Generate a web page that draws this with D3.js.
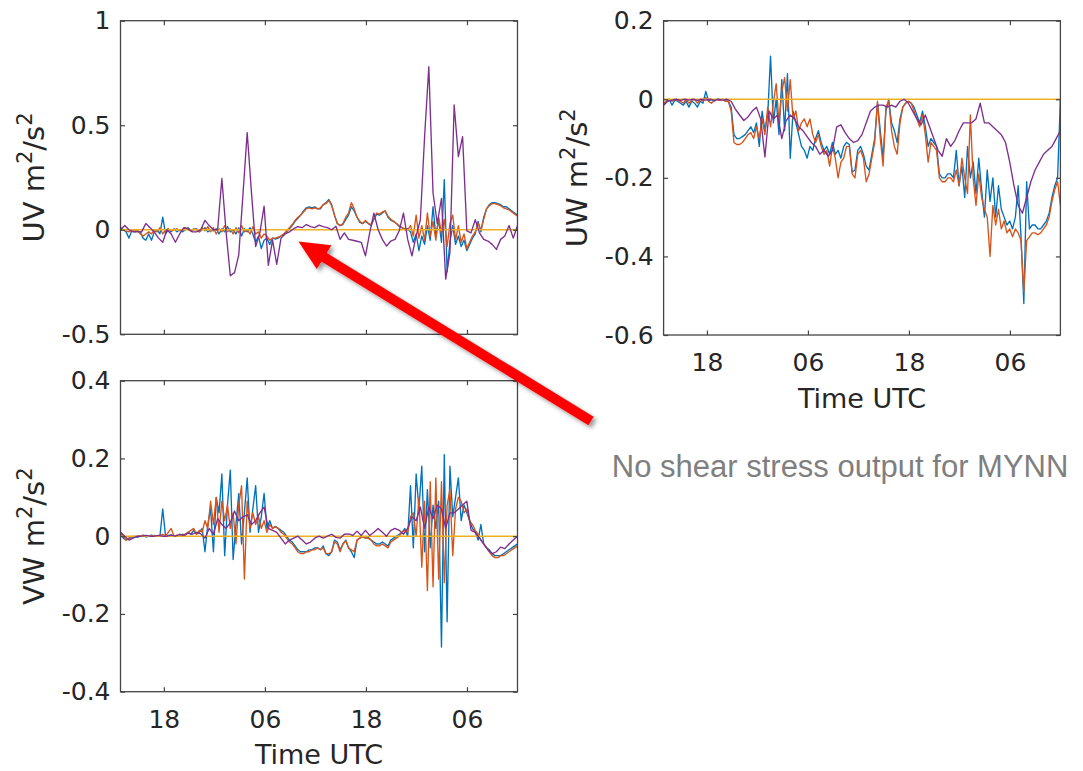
<!DOCTYPE html>
<html>
<head>
<meta charset="utf-8">
<script src="https://cdn.jsdelivr.net/npm/d3@7"></script>
<style>
  body { margin: 0; background: #fff; }
  svg { display: block; }
</style>
</head>
<body>
<svg width="1083" height="771"></svg>
<script>
// time axis (hours from day 1 00 UTC)
var tStart = 12.85, tEnd = 60;
var xTickHours = [18, 30, 42, 54];
var xTickLabels = ["18", "06", "18", "06"];

// UV
var uvTicks = [1, 0.5, 0, -0.5];
var uvTickLabels = ["1", "0.5", "0", "-0.5"];
var uvBlue = [
  0.01, 0.0, -0.01, -0.04, -0.005, -0.01, -0.005, -0.01, -0.04, -0.05,
  -0.02, -0.05, -0.01, 0.0, -0.02, 0.06, -0.02, 0.0, -0.01, 0.005,
  -0.01, 0.0, -0.01, 0.0, 0.01, -0.005, 0.0, 0.005, -0.01, 0.0,
  0.01, -0.01, 0.0, -0.005, 0.005, -0.02, 0.005, -0.01, 0.015, -0.01,
  0.0, -0.02, 0.01, -0.03, 0.005, -0.01, 0.01, -0.02, -0.06, -0.03,
  -0.09, -0.05, -0.04, -0.07, -0.04, -0.045, -0.04, -0.03, -0.02, -0.01,
  0.005, 0.02, 0.04, 0.055, 0.07, 0.09, 0.105, 0.11, 0.105, 0.11,
  0.1, 0.1, 0.12, 0.13, 0.145, 0.12, 0.07, 0.03, 0.02, 0.025,
  0.05, 0.07, 0.11, 0.09, 0.06, 0.035, 0.03, 0.04, 0.03, 0.02,
  0.05, 0.075, 0.07, 0.08, 0.09, 0.06, 0.045, 0.04, 0.03, 0.015,
  0.01, 0.0, 0.005, -0.01, -0.06, -0.02, -0.1, -0.03, -0.07, 0.02,
  -0.05, 0.11, -0.03, 0.05, -0.06, 0.24, -0.2, -0.06, 0.02, -0.07,
  -0.03, -0.08, -0.05, -0.1, -0.07, -0.04, -0.02, 0.04, -0.01, 0.06,
  0.1, 0.12, 0.13, 0.13, 0.125, 0.12, 0.11, 0.11, 0.1, 0.09,
  0.08, 0.07
];
var uvOrange = [
  0.01, 0.0, -0.005, -0.01, 0.0, -0.005, 0.0, -0.02, -0.03, -0.02,
  -0.01, -0.02, 0.0, -0.01, 0.01, -0.02, 0.0, 0.005, -0.005, 0.0,
  0.005, -0.005, 0.0, 0.01, 0.0, -0.005, 0.005, 0.0, -0.01, 0.01,
  -0.005, 0.015, -0.01, 0.01, -0.02, 0.005, -0.01, 0.02, -0.01, 0.005,
  -0.02, 0.01, -0.015, 0.02, -0.01, 0.0, -0.02, 0.015, -0.02, -0.01,
  -0.04, -0.02, -0.03, -0.05, -0.04, -0.04, -0.035, -0.03, -0.02, -0.005,
  0.01, 0.025, 0.045, 0.06, 0.07, 0.085, 0.1, 0.105, 0.1, 0.105,
  0.1, 0.105, 0.12, 0.125, 0.14, 0.115, 0.07, 0.03, 0.02, 0.03,
  0.06, 0.08, 0.13, 0.1, 0.06, 0.04, 0.03, 0.045, 0.03, 0.025,
  0.055, 0.08, 0.075, 0.085, 0.09, 0.065, 0.05, 0.04, 0.03, 0.02,
  0.01, 0.005, 0.0, 0.02, -0.03, 0.07, -0.04, 0.02, -0.05, 0.08,
  -0.03, 0.04, -0.05, 0.06, -0.02, 0.05, -0.08, 0.03, 0.07, -0.05,
  0.02, -0.06, -0.02, -0.09, -0.06, -0.03, -0.01, 0.03, 0.0, 0.05,
  0.1, 0.115, 0.125, 0.125, 0.12, 0.115, 0.105, 0.1, 0.095, 0.085,
  0.075, 0.065
];
var uvPurple = [
  0.0, 0.02, 0.0, -0.01, -0.01, -0.01, 0.03, 0.01, -0.01, -0.04,
  -0.06, 0.0, -0.02, -0.06, -0.02, 0.01, 0.005, -0.01, -0.01, 0.0,
  0.045, 0.02, 0.0, 0.0, 0.245, -0.01, -0.22, -0.205, -0.12, 0.17,
  0.465, 0.18, -0.08, -0.015, 0.113, -0.17, -0.05, -0.165, -0.04, -0.02,
  -0.01, 0.005, 0.015, 0.01, 0.025, 0.015, 0.01, 0.022, 0.015, 0.01,
  0.0, 0.017, -0.046, -0.015, -0.046, -0.05, -0.055, -0.06, -0.125, -0.015,
  0.08, 0.0, -0.046, -0.078, -0.054, -0.046, -0.005, 0.08, -0.046, -0.125,
  -0.03, 0.048, 0.445, 0.78, 0.176, 0.03, 0.15, -0.236, -0.11, 0.597,
  0.35, 0.445, -0.005, -0.015, 0.048, -0.015, -0.046, -0.054, -0.07, -0.094,
  -0.046, -0.03, 0.02, -0.04, 0.02
];

// UW
var uwTicks = [0.2, 0, -0.2, -0.4, -0.6];
var uwTickLabels = ["0.2", "0", "-0.2", "-0.4", "-0.6"];
var uwBlue = [
  -0.015, -0.005, 0.0, -0.015, -0.002, -0.005, -0.01, -0.015, -0.005, -0.02,
  -0.005, -0.01, -0.02, -0.005, -0.01, 0.02, -0.005, 0.0, -0.005, 0.0,
  -0.002, 0.0, -0.005, -0.005, -0.02, -0.09, -0.1, -0.1, -0.095, -0.09,
  -0.08, -0.07, -0.085, -0.06, -0.12, -0.03, -0.08, -0.04, 0.11, -0.06,
  0.0, -0.09, 0.05, -0.08, 0.065, -0.15, -0.03, -0.06, -0.09, -0.12,
  -0.13, -0.15, -0.12, -0.13, -0.1, -0.08, -0.11, -0.13, -0.12, -0.14,
  -0.11, -0.14, -0.13, -0.15, -0.12, -0.11, -0.115, -0.185, -0.18, -0.13,
  -0.12, -0.14, -0.17, -0.18, -0.14, -0.1, -0.01, -0.08, -0.15, -0.03,
  0.0, -0.06, -0.08, -0.11, -0.05, -0.02, -0.01, -0.005, -0.01, -0.02,
  -0.04, -0.06, -0.03, -0.07, -0.12, -0.1, -0.11, -0.12, -0.19, -0.2,
  -0.2, -0.19, -0.19, -0.2, -0.13, -0.22, -0.17, -0.25, -0.12, -0.2,
  -0.16, -0.24, -0.15, -0.23, -0.3, -0.18, -0.26, -0.2, -0.3, -0.22,
  -0.28, -0.3, -0.32, -0.31, -0.33, -0.3, -0.22, -0.35, -0.52, -0.21,
  -0.33, -0.32, -0.32, -0.33, -0.33, -0.32, -0.31, -0.29, -0.25, -0.22,
  -0.2, 0.0
];
var uwOrange = [
  -0.01, -0.005, 0.0, -0.005, 0.0, -0.003, -0.005, -0.01, 0.0, -0.01,
  -0.003, 0.0, -0.01, 0.0, -0.005, 0.005, -0.005, -0.01, -0.003, 0.0,
  -0.003, 0.0, -0.005, -0.005, -0.03, -0.11, -0.115, -0.115, -0.11, -0.1,
  -0.09, -0.085, -0.1, -0.07, -0.1, -0.05, -0.09, -0.02, -0.07, -0.01,
  0.04, -0.06, 0.02, 0.055, -0.03, 0.05, -0.05, -0.03, -0.08, -0.06,
  -0.05, -0.07, -0.05, -0.09, -0.11, -0.09, -0.12, -0.14, -0.13, -0.17,
  -0.12, -0.15, -0.2, -0.16, -0.15, -0.12, -0.12, -0.19, -0.2, -0.14,
  -0.13, -0.15, -0.21, -0.19, -0.15, -0.11, -0.005, -0.1, -0.17, -0.02,
  -0.005, -0.08, -0.12, -0.14, -0.06, -0.02, -0.01, -0.005, -0.01, -0.03,
  -0.05, -0.07, -0.04, -0.09, -0.16, -0.11, -0.12, -0.13, -0.2, -0.21,
  -0.21, -0.2, -0.2, -0.21, -0.18, -0.22, -0.15, -0.2, -0.24, -0.04,
  -0.2, -0.27, -0.19, -0.25, -0.28, -0.3, -0.4, -0.27, -0.32, -0.28,
  -0.33, -0.31, -0.34, -0.33, -0.35, -0.33, -0.34, -0.36, -0.49, -0.36,
  -0.35, -0.34, -0.34, -0.345, -0.34, -0.33, -0.32, -0.3, -0.26, -0.23,
  -0.21, -0.27
];
var uwPurple = [
  -0.015, -0.005, -0.002, 0.0, -0.003, 0.0, -0.002, 0.0, -0.003, 0.0,
  -0.002, 0.0, -0.003, 0.0, -0.002, 0.0, -0.005, -0.025, -0.04, -0.054,
  -0.045, -0.03, -0.02, -0.05, -0.147, -0.03, -0.05, -0.04, -0.1, -0.055,
  -0.04, -0.05, -0.07, -0.08, -0.095, -0.11, -0.12, -0.14, -0.13, -0.145,
  -0.13, -0.07, -0.065, -0.085, -0.1, -0.11, -0.105, -0.09, -0.06, -0.03,
  -0.02, -0.015, -0.015, -0.02, -0.015, -0.02, -0.005, 0.0, -0.01, -0.03,
  -0.05, -0.065, -0.04, -0.07, -0.1, -0.13, -0.145, -0.1, -0.12, -0.105,
  -0.08, -0.06, -0.06, -0.06, -0.05, -0.01, -0.06, -0.06, -0.07, -0.08,
  -0.09, -0.11, -0.16, -0.22, -0.27, -0.29, -0.25, -0.21, -0.18, -0.16,
  -0.14, -0.13, -0.12, -0.1, -0.08
];

// VW
var vwTicks = [0.4, 0.2, 0, -0.2, -0.4];
var vwTickLabels = ["0.4", "0.2", "0", "-0.2", "-0.4"];
var vwBlue = [
  0.01, -0.005, -0.01, -0.005, -0.005, 0.0, -0.003, 0.0, 0.002, -0.002,
  0.0, 0.003, 0.0, 0.0, 0.0, 0.07, 0.0, 0.002, 0.003, 0.0,
  0.002, 0.0, 0.005, 0.003, 0.01, 0.005, 0.015, 0.005, 0.01, 0.02,
  -0.04, 0.03, 0.07, -0.04, 0.1, 0.06, 0.16, -0.05, 0.08, 0.17,
  -0.06, 0.03, 0.11, -0.02, 0.06, 0.15, 0.01, 0.07, 0.13, 0.01,
  0.05, 0.11, 0.02, 0.04, 0.02, 0.025, 0.02, 0.015, 0.01, 0.0,
  -0.01, -0.015, -0.025, -0.035, -0.04, -0.04, -0.04, -0.035, -0.035, -0.03,
  -0.03, -0.035, -0.025, -0.045, -0.05, -0.04, -0.01, -0.015, -0.035, -0.02,
  -0.01, -0.03, -0.04, -0.055, -0.01, -0.005, 0.0, -0.005, -0.003, -0.01,
  -0.015, -0.02, -0.02, -0.015, -0.02, -0.025, -0.01, -0.005, 0.0, 0.005,
  0.01, 0.02, 0.0, 0.13, -0.03, 0.16, 0.07, 0.18, -0.04, 0.12,
  -0.03, 0.08, 0.02, 0.09, -0.285, 0.21, -0.22, 0.18, 0.05, 0.1,
  0.15, 0.04, 0.08, 0.06, 0.04, 0.02, 0.01, -0.01, 0.03, -0.02,
  -0.03, -0.035, -0.045, -0.05, -0.05, -0.05, -0.045, -0.04, -0.035, -0.03,
  -0.025, -0.02
];
var vwOrange = [
  0.01, 0.0, -0.01, -0.005, 0.0, -0.002, 0.0, 0.0, 0.003, 0.0,
  0.0, 0.0, 0.002, 0.0, 0.002, 0.005, 0.0, 0.01, 0.02, 0.0,
  0.002, 0.0, 0.003, 0.005, 0.01, 0.015, 0.02, 0.005, 0.015, 0.01,
  0.04, 0.02, 0.09, 0.03, 0.1, 0.01, 0.09, 0.04, 0.08, 0.02,
  0.06, -0.02, 0.08, 0.13, -0.11, 0.09, 0.02, 0.06, 0.03, 0.05,
  0.02, 0.04, 0.01, 0.03, 0.02, 0.025, 0.02, 0.01, 0.005, -0.005,
  -0.015, -0.02, -0.03, -0.04, -0.045, -0.045, -0.04, -0.04, -0.035, -0.035,
  -0.03, -0.035, -0.03, -0.045, -0.045, -0.04, -0.015, -0.02, -0.04, -0.02,
  -0.012, -0.03, -0.035, -0.04, -0.01, -0.005, -0.002, -0.005, -0.005, -0.01,
  -0.02, -0.025, -0.025, -0.02, -0.025, -0.03, -0.015, -0.01, -0.005, 0.0,
  0.01, 0.015, 0.01, 0.05, 0.06, 0.0, 0.1, -0.08, 0.09, -0.14,
  0.14, -0.13, 0.15, -0.11, 0.14, -0.12, 0.08, 0.12, -0.05, 0.07,
  0.1, 0.09, 0.06, 0.07, 0.04, 0.03, 0.015, 0.005, -0.01, -0.02,
  -0.03, -0.04, -0.05, -0.055, -0.055, -0.05, -0.05, -0.045, -0.04, -0.035,
  -0.03, -0.025
];
var vwPurple = [
  0.01, 0.0, -0.01, -0.005, 0.0, 0.0, 0.002, 0.0, 0.0, 0.002,
  0.0, 0.0, 0.003, 0.0, 0.005, 0.002, 0.008, 0.005, 0.01, 0.006,
  -0.005, 0.02, 0.005, 0.045, 0.03, 0.02, 0.035, 0.065, 0.04, 0.05,
  0.055, 0.03, 0.04, 0.06, 0.075, 0.02, 0.015, 0.01, -0.005, -0.02,
  -0.01, -0.005, 0.0, -0.01, -0.02, -0.015, -0.005, 0.0, -0.005, 0.0,
  0.005, -0.003, -0.005, 0.005, 0.006, 0.002, 0.013, 0.002, 0.015, 0.002,
  0.01, 0.02, 0.01, 0.0, 0.015, 0.02, 0.015, 0.005, 0.02, 0.05,
  0.04, 0.075, 0.02, 0.075, 0.045, 0.08, 0.07, 0.02, 0.06, 0.06,
  0.07, 0.08, 0.09, 0.015, 0.01, -0.005, -0.02, -0.035, -0.045, -0.04,
  -0.028, -0.032, -0.02, -0.01, 0.0
];

// MYNN gives no shear stress: flat zero line
var zeroLine = [0, 0];

var colors = { blue: "#0072BD", orange: "#D95319", yellow: "#EDB120", purple: "#7E2F8E" };
var axisColor = "#444";
var textColor = "#262626";

function toSeries(values) {
  var step = (tEnd - tStart) / (values.length - 1);
  return values.map(function(v, i) { return { t: tStart + i * step, v: v }; });
}

var panels = [
  { id: "uv", name: "UV", left: 120.5, right: 517.5, top: 20.7, bottom: 334.3,
    yDomain: [-0.5, 1], ticks: uvTicks, tickLabels: uvTickLabels, xLabels: false,
    blue: uvBlue, orange: uvOrange, purple: uvPurple },
  { id: "uw", name: "UW", left: 663.6, right: 1060.4, top: 20.7, bottom: 335,
    yDomain: [-0.6, 0.2], ticks: uwTicks, tickLabels: uwTickLabels, xLabels: true,
    blue: uwBlue, orange: uwOrange, purple: uwPurple },
  { id: "vw", name: "VW", left: 120.5, right: 517.5, top: 380.7, bottom: 691.7,
    yDomain: [-0.4, 0.4], ticks: vwTicks, tickLabels: vwTickLabels, xLabels: true,
    blue: vwBlue, orange: vwOrange, purple: vwPurple }
];

var svg = d3.select("svg");
var defs = svg.append("defs");

var shadow = defs.append("filter").attr("id", "shadow")
    .attr("x", "-20%").attr("y", "-20%").attr("width", "140%").attr("height", "140%");
shadow.append("feDropShadow")
    .attr("dx", 3).attr("dy", 3).attr("stdDeviation", 2)
    .attr("flood-color", "#000").attr("flood-opacity", 0.4);

panels.forEach(function(p) {
  var x = d3.scaleLinear().domain([tStart, tEnd]).range([p.left, p.right]);
  var y = d3.scaleLinear().domain(p.yDomain).range([p.bottom, p.top]);
  var w = p.right - p.left, h = p.bottom - p.top;

  defs.append("clipPath").attr("id", "clip-" + p.id)
    .append("rect").attr("x", p.left).attr("y", p.top).attr("width", w).attr("height", h);

  var g = svg.append("g");

  var line = d3.line()
      .x(function(d) { return x(d.t); })
      .y(function(d) { return y(d.v); });

  var plot = g.append("g").attr("clip-path", "url(#clip-" + p.id + ")");
  [["blue", p.blue], ["orange", p.orange], ["yellow", zeroLine], ["purple", p.purple]].forEach(function(s) {
    plot.append("path")
        .datum(toSeries(s[1]))
        .attr("fill", "none")
        .attr("stroke", colors[s[0]])
        .attr("stroke-width", 1.35)
        .attr("stroke-linejoin", "round")
        .attr("d", line);
  });

  // axes with inward ticks on all four sides
  var bottom = g.append("g").attr("transform", "translate(0," + p.bottom + ")")
      .call(d3.axisBottom(x).tickValues(xTickHours).tickSize(-4.5).tickPadding(18.5)
        .tickFormat(function(d, i) { return p.xLabels ? xTickLabels[i] : ""; }));
  var top = g.append("g").attr("transform", "translate(0," + p.top + ")")
      .call(d3.axisTop(x).tickValues(xTickHours).tickSize(-4.5).tickFormat(""));
  var left = g.append("g").attr("transform", "translate(" + p.left + ",0)")
      .call(d3.axisLeft(y).tickValues(p.ticks).tickSize(-4.5).tickPadding(10)
        .tickFormat(function(d, i) { return p.tickLabels[i]; }));
  var right = g.append("g").attr("transform", "translate(" + p.right + ",0)")
      .call(d3.axisRight(y).tickValues(p.ticks).tickSize(-4.5).tickFormat(""));

  [bottom, top, left, right].forEach(function(a) {
    a.select(".domain").remove();
    a.selectAll(".tick line").attr("stroke", axisColor).attr("stroke-width", 1.2);
    a.selectAll("text")
        .attr("fill", textColor)
        .attr("font-family", "DejaVu Sans, sans-serif")
        .attr("font-size", 25);
  });

  g.append("rect")
      .attr("x", p.left).attr("y", p.top).attr("width", w).attr("height", h)
      .attr("fill", "none").attr("stroke", axisColor).attr("stroke-width", 1.3);

  // y label with superscripts
  var lab = g.append("text")
      .attr("transform", "translate(" + (p.left - 76.5) + "," + (p.top + h / 2) + ") rotate(-90)")
      .attr("text-anchor", "middle")
      .attr("fill", textColor)
      .attr("font-family", "DejaVu Sans, sans-serif")
      .attr("font-size", 29);
  lab.append("tspan").text(p.name + " m");
  lab.append("tspan").attr("dy", -12).attr("font-size", 21).text("2");
  lab.append("tspan").attr("dy", 12).text("/s");
  lab.append("tspan").attr("dy", -12).attr("font-size", 21).text("2");

  if (p.xLabels) {
    g.append("text")
        .attr("x", p.left + w / 2).attr("y", p.bottom + 72.5)
        .attr("text-anchor", "middle")
        .attr("fill", textColor)
        .attr("font-family", "DejaVu Sans, sans-serif")
        .attr("font-size", 27)
        .text("Time UTC");
  }
});

// annotation arrow
var arrowTail = [591, 421], arrowTip = [298.5, 241.5];
var dx = arrowTip[0] - arrowTail[0], dy = arrowTip[1] - arrowTail[1];
var len = Math.sqrt(dx * dx + dy * dy);
var ux = dx / len, uy = dy / len, nx = -uy, ny = ux;
var shaftHalf = 5, headHalf = 14, headLen = 30;
var bx = arrowTip[0] - ux * headLen, by = arrowTip[1] - uy * headLen;
var arrowPts = [
  [arrowTail[0] + nx * shaftHalf, arrowTail[1] + ny * shaftHalf],
  [bx + nx * shaftHalf, by + ny * shaftHalf],
  [bx + nx * headHalf, by + ny * headHalf],
  arrowTip,
  [bx - nx * headHalf, by - ny * headHalf],
  [bx - nx * shaftHalf, by - ny * shaftHalf],
  [arrowTail[0] - nx * shaftHalf, arrowTail[1] - ny * shaftHalf]
];
svg.append("polygon")
    .attr("points", arrowPts.map(function(q) { return q.join(","); }).join(" "))
    .attr("fill", "#FF0000")
    .attr("filter", "url(#shadow)");

svg.append("text")
    .attr("x", 611.8).attr("y", 476.7)
    .attr("fill", "#7f7f7f")
    .attr("font-family", "Liberation Sans, Arial, sans-serif")
    .attr("font-size", 31)
    .text("No shear stress output for MYNN");
</script>
</body>
</html>
